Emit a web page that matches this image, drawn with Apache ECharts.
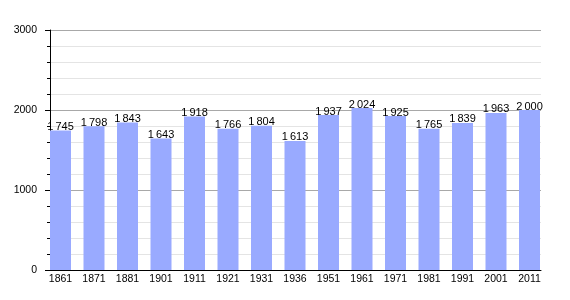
<!DOCTYPE html>
<html><head><meta charset="utf-8">
<script src="https://cdn.jsdelivr.net/npm/echarts@6/dist/echarts.min.js"></script>
<style>html,body{margin:0;padding:0;background:#fff}#c{width:570px;height:300px}</style>
</head><body><div id="c"></div>
<script>
var years = ['1861','1871','1881','1901','1911','1921','1931','1936','1951','1961','1971','1981','1991','2001','2011'];
var population = [1745,1798,1843,1643,1918,1766,1804,1613,1937,2024,1925,1765,1839,1963,2000];
var yMin = 0, yMax = 3000, yStep = 1000;

function fmt(v){ var s = String(v); return s.length > 3 ? s.slice(0, s.length-3) + '\u2009' + s.slice(-3) : s; }

var chart = echarts.init(document.getElementById('c'), null, {renderer:'canvas'});
chart.setOption({
  animation:false,
  backgroundColor:'#fff',
  textStyle:{fontFamily:'Liberation Sans, Arial, sans-serif'},
  grid:[
    {left:50, right:29, top:30, bottom:30},
    {left:43.75, width:502.5, top:30, bottom:30}
  ],
  xAxis:[
    {gridIndex:0, type:'value', min:0, max:1, axisLine:{show:true, lineStyle:{color:'#000', width:1}}, axisTick:{show:false}, axisLabel:{show:false}, splitLine:{show:false}},
    {gridIndex:1, type:'category', data:years, boundaryGap:true, axisLine:{show:false}, axisTick:{show:false},
     axisLabel:{color:'#000', fontSize:10.5, margin:4, interval:0}}
  ],
  yAxis:[
    {gridIndex:0, type:'value', min:yMin, max:yMax, interval:yStep,
     axisLine:{show:true, lineStyle:{color:'#000', width:1}},
     axisTick:{show:true, length:5, lineStyle:{color:'#000'}},
     minorTick:{show:true, splitNumber:5, length:3, lineStyle:{color:'#000'}},
     axisLabel:{color:'#000', fontSize:10.5, margin:13, formatter:function(v){return String(v);}},
     splitLine:{show:true, lineStyle:{color:'#a8a8a8', width:1}},
     minorSplitLine:{show:true, lineStyle:{color:'#e4e4e4', width:1}}},
    {gridIndex:1, type:'value', min:yMin, max:yMax, show:false, splitLine:{show:false}}
  ],
  series:[{
    type:'bar', xAxisIndex:1, yAxisIndex:1, data:population, barWidth:21,
    itemStyle:{color:'#99aaff'},
    label:{show:true, position:'top', distance:-2, color:'#000', fontSize:11, formatter:function(p){return fmt(p.value);}}
  }]
});
</script></body></html>
